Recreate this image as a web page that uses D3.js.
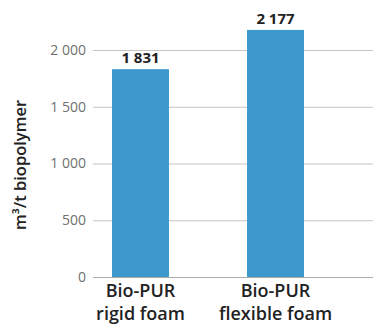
<!DOCTYPE html>
<html><head><meta charset="utf-8">
<script src="https://cdn.jsdelivr.net/npm/d3@7"></script>
<style>body{margin:0;background:#fff;} svg{display:block;}</style>
</head><body><svg id="c" width="373" height="326"></svg>
<script>
const categories = [["Bio-PUR","rigid foam"],["Bio-PUR","flexible foam"]];
const values = [1831, 2177];
const valueLabels = ["1 831", "2 177"];
const ticks = [0, 500, 1000, 1500, 2000];
const tickLabels = ["0", "500", "1 000", "1 500", "2 000"];
const yTitle = "m³/t biopolymer";

const svg = d3.select("#c");
const font = "'Open Sans', sans-serif";
const y = d3.scaleLinear().domain([0, 2000]).range([277, 50]);
const x = d3.scaleBand().domain(d3.range(values.length)).range([73, 343]).paddingInner(0.578).paddingOuter(0.289);

svg.append("g").selectAll("line").data(ticks).join("line")
  .attr("x1", 93).attr("x2", 373)
  .attr("y1", d => y(d) + 0.5).attr("y2", d => y(d) + 0.5)
  .attr("stroke", d => d === 0 ? "#aaa" : "#c4c4c4").attr("stroke-width", 1);

svg.append("g").selectAll("text").data(ticks).join("text")
  .attr("x", 86).attr("y", d => y(d)).attr("dy", "0.35em")
  .attr("text-anchor", "end").attr("font-family", font).attr("font-size", 14)
  .attr("fill", "#707070").text((d, i) => tickLabels[i]);

svg.append("g").selectAll("rect").data(values).join("rect")
  .attr("x", (d, i) => x(i)).attr("width", x.bandwidth())
  .attr("y", d => y(d)).attr("height", d => y(0) - y(d))
  .attr("fill", "#3d99cd");

svg.append("g").selectAll("text").data(values).join("text")
  .attr("x", (d, i) => x(i) + x.bandwidth() / 2).attr("y", d => y(d) - 6)
  .attr("text-anchor", "middle").attr("font-family", font).attr("font-weight", 700)
  .attr("font-size", 15).attr("fill", "#222").text((d, i) => valueLabels[i]);

const cat = svg.append("g").selectAll("text").data(categories).join("text")
  .attr("text-anchor", "middle").attr("font-family", font).attr("font-weight", 600)
  .attr("font-size", 18).attr("fill", "#222");
cat.selectAll("tspan").data((d, i) => d.map(s => ({s, i}))).join("tspan")
  .attr("x", d => x(d.i) + x.bandwidth() / 2)
  .attr("y", (d, j) => 297 + j * 23).text(d => d.s);

svg.append("text").attr("transform", "translate(26,165) rotate(-90)")
  .attr("text-anchor", "middle").attr("font-family", font).attr("font-weight", 600)
  .attr("font-size", 16.5).attr("fill", "#222").text(yTitle);
</script></body></html>
